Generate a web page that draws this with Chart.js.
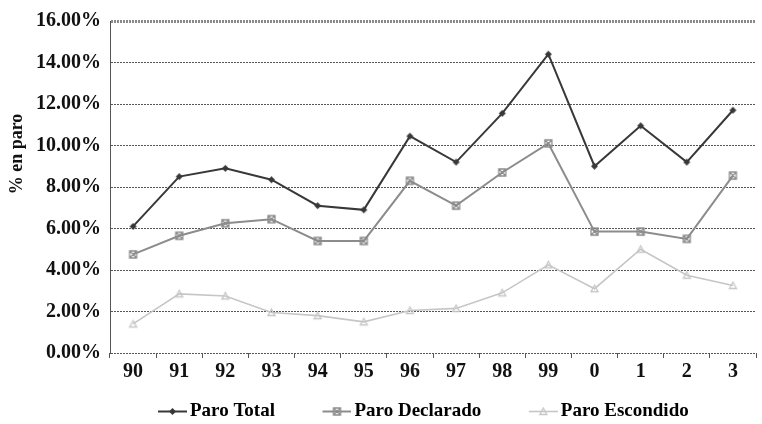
<!DOCTYPE html>
<html><head><meta charset="utf-8">
<script src="https://cdn.jsdelivr.net/npm/chart.js@4.4.1/dist/chart.umd.min.js"></script>
<style>html,body{margin:0;padding:0;background:#fff;}</style>
</head><body>
<canvas id="c" width="762" height="424"></canvas>
<script>
const years = ['90','91','92','93','94','95','96','97','98','99','0','1','2','3'];
const paroTotal     = [6.1, 8.5, 8.9, 8.35, 7.1, 6.9, 10.45, 9.2, 11.55, 14.4, 9.0, 10.95, 9.2, 11.7];
const paroDeclarado = [4.75, 5.65, 6.25, 6.45, 5.4, 5.4, 8.3, 7.1, 8.7, 10.1, 5.85, 5.85, 5.5, 8.55];
const paroEscondido = [1.4, 2.85, 2.75, 1.95, 1.8, 1.5, 2.05, 2.15, 2.9, 4.25, 3.1, 5.0, 3.75, 3.25];
const yTickValues = [0, 2, 4, 6, 8, 10, 12, 14, 16];
const yTitle = '% en paro';

const SERIF = '"Liberation Serif", "Times New Roman", serif';
const cTotal = '#383838', cDecl = '#8c8c8c', cEsc = '#c6c6c6';

function drawMarker(g, type, color, cx, cy) {
  g.strokeStyle = color; g.fillStyle = color; g.lineWidth = 1.3;
  g.beginPath();
  if (type === 'diamond') {
    g.moveTo(cx, cy - 3.5); g.lineTo(cx + 3.5, cy); g.lineTo(cx, cy + 3.5); g.lineTo(cx - 3.5, cy); g.closePath(); g.fill();
  } else if (type === 'boxx') {
    g.rect(cx - 3.5, cy - 3.5, 7, 7); g.moveTo(cx - 3.5, cy - 3.5); g.lineTo(cx + 3.5, cy + 3.5);
    g.moveTo(cx + 3.5, cy - 3.5); g.lineTo(cx - 3.5, cy + 3.5); g.stroke();
  } else {
    g.moveTo(cx, cy - 3.5); g.lineTo(cx + 3.5, cy + 3); g.lineTo(cx - 3.5, cy + 3); g.closePath(); g.stroke();
  }
}
function markerImg(type, color) {
  const c = document.createElement('canvas'); c.width = 11; c.height = 11;
  drawMarker(c.getContext('2d'), type, color, 5.5, 5.5);
  return c;
}
// legend symbol: blank lead-in + line with marker; image is wider than the box
const LEG_IMG_W = 83, LEG_LINE = 29, LEG_BOX_W = LEG_IMG_W - 13;
function legendImg(type, color, lw) {
  const c = document.createElement('canvas'); c.width = LEG_IMG_W; c.height = 11;
  const g = c.getContext('2d');
  g.strokeStyle = color; g.lineWidth = lw;
  g.beginPath(); g.moveTo(LEG_IMG_W - LEG_LINE, 5.5); g.lineTo(LEG_IMG_W, 5.5); g.stroke();
  drawMarker(g, type, color, LEG_IMG_W - LEG_LINE / 2, 5.5);
  return c;
}

const datasets = [
  {label: 'Paro Total', data: paroTotal, borderColor: cTotal, backgroundColor: cTotal, borderWidth: 2,
   pointStyle: markerImg('diamond', cTotal), legImg: legendImg('diamond', cTotal, 2)},
  {label: 'Paro Declarado', data: paroDeclarado, borderColor: cDecl, backgroundColor: cDecl, borderWidth: 2,
   pointStyle: markerImg('boxx', cDecl), legImg: legendImg('boxx', cDecl, 2)},
  {label: 'Paro Escondido', data: paroEscondido, borderColor: cEsc, backgroundColor: cEsc, borderWidth: 1.6,
   pointStyle: markerImg('tri', cEsc), legImg: legendImg('tri', cEsc, 1.6)}
].map(d => Object.assign({tension: 0, fill: false, pointRadius: 4}, d));

const LEGEND_START = 110.5, LEGEND_DY = 7;
const extras = {
  id: 'extras',
  afterLayout(chart) {
    const l = chart.legend;
    if (l && l.lineWidths) {
      const pad = l.options.labels.padding;
      const cur = (l.left + pad + l.right - l.lineWidths[0]) / 2;
      const dx = LEGEND_START - cur;
      l.left += dx; l.right += dx;
      l.top += LEGEND_DY; l.bottom += LEGEND_DY;
    }
  },
  afterDraw(chart) {
    const ctx = chart.ctx;
    ctx.save();
    ctx.translate(17, 154);
    ctx.rotate(-Math.PI / 2);
    ctx.font = 'bold 18px ' + SERIF;
    ctx.fillStyle = '#111';
    ctx.textAlign = 'center'; ctx.textBaseline = 'middle';
    ctx.fillText(yTitle, 0, 0);
    ctx.restore();
  }
};

new Chart(document.getElementById('c'), {
  type: 'line',
  data: {labels: years, datasets},
  plugins: [extras],
  options: {
    responsive: false, animation: false,
    layout: {padding: {left: 27, right: 0, top: 13, bottom: 0}},
    plugins: {
      tooltip: {enabled: false},
      legend: {
        position: 'bottom',
        labels: {
          usePointStyle: true, pointStyleWidth: LEG_BOX_W, padding: 0, color: '#111',
          font: {family: SERIF, size: 19, weight: 'bold'},
          generateLabels(chart) {
            return chart.data.datasets.map((d, i) => ({
              text: d.label, pointStyle: d.legImg, fillStyle: d.borderColor, strokeStyle: d.borderColor,
              lineWidth: 0, datasetIndex: i, hidden: false
            }));
          }
        }
      }
    },
    scales: {
      x: {
        offset: true,
        grid: {drawOnChartArea: false, drawTicks: true, tickLength: 5, offset: true, color: '#555'},
        border: {display: false},
        ticks: {color: '#111', padding: 2, font: {family: SERIF, size: 20, weight: 'bold'}, maxRotation: 0},
        afterFit(axis) { axis.height += 9; }
      },
      y: {
        min: 0, max: 16,
        afterBuildTicks(axis) { axis.ticks = yTickValues.map(v => ({value: v})); },
        grid: {
          drawTicks: false,
          color: ctx => ctx.tick && ctx.tick.value === 16 ? '#8a8a8a' : '#555',
          lineWidth: ctx => ctx.tick && ctx.tick.value === 16 ? 3 : 1
        },
        border: {display: true, color: '#555', dash: [2, 1], width: 1},
        ticks: {
          color: '#111', padding: 9, font: {family: SERIF, size: 20, weight: 'bold'},
          callback: v => Number(v).toFixed(2) + '%'
        }
      }
    }
  }
});
</script>
</body></html>
